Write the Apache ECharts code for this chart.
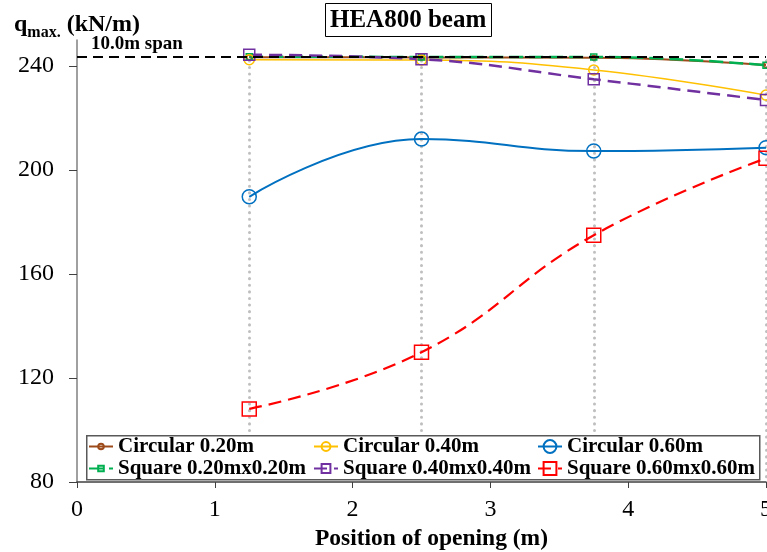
<!DOCTYPE html>
<html>
<head>
<meta charset="utf-8">
<script src="https://cdn.jsdelivr.net/npm/echarts@6/dist/echarts.min.js"></script>
<style>html,body{margin:0;padding:0;background:#fff}#c{width:767px;height:552px}</style>
</head>
<body>
<div id="c"></div>
<script>
const positions = [1.25, 2.5, 3.75, 5];
const circ020 = [243.4, 243.3, 243.2, 240.4];
const circ040 = [242.4, 242.3, 238.5, 228.8];
const circ060 = [189.7, 211.9, 207.3, 208.6];
const sq020 = [243.6, 243.5, 243.5, 240.3];
const sq040 = [244.3, 242.6, 234.9, 226.9];
const sq060 = [108.1, 129.9, 174.9, 204.5];
const spanValue = 243.5;
const spanLabel = '10.0m span';
const yTicks = [80, 120, 160, 200, 240];
const seriesNames = ['Circular 0.20m', 'Square 0.20mx0.20m', 'Circular 0.40m', 'Square 0.40mx0.40m', 'Circular 0.60m', 'Square 0.60mx0.60m'];

const FONT = 'Liberation Serif';
const pair = arr => positions.map((p, i) => [p, arr[i]]);

function mk(name, data, color, symbol, size, width, dash) {
  return {
    name, type: 'line', data: pair(data), smooth: 0.45,
    symbol, symbolSize: size, showSymbol: true,
    lineStyle: { color, width, type: dash || 'solid' },
    itemStyle: { color: 'rgba(255,255,255,0)', borderColor: color, borderWidth: 1.5 },
    emphasis: { disabled: true }, z: 3
  };
}

const guideLines = positions.map(p => [{ coord: [p, spanValue - 1.5] }, { coord: [p, yTicks[0]] }]);

const series = [
  {
    name: 'guides', type: 'line', data: [], z: 1, silent: true,
    markLine: {
      silent: true, symbol: 'none', animation: false, z: 1,
      lineStyle: { color: '#bfbfbf', width: 3, type: [0.1, 6.5], cap: 'round' },
      label: { show: false },
      data: guideLines
    }
  },
  {
    name: 'span', type: 'line', data: [], z: 2, silent: true,
    markLine: {
      silent: true, symbol: 'none', animation: false, z: 5,
      lineStyle: { color: '#000', width: 1.8, type: [10, 6] },
      label: { show: true, position: 'insideStartTop', formatter: spanLabel, fontFamily: FONT, fontWeight: 'bold', fontSize: 19, color: '#000', distance: [14, 3] },
      data: [{ yAxis: spanValue }]
    }
  },
  mk(seriesNames[0], circ020, '#9c4a1a', 'circle', 5, 2, null),
  mk(seriesNames[1], sq020, '#00b050', 'rect', 6, 2.5, [14, 6]),
  mk(seriesNames[2], circ040, '#ffc000', 'circle', 10, 1.5, null),
  mk(seriesNames[3], sq040, '#7030a0', 'rect', 11, 2.5, [13, 7]),
  mk(seriesNames[4], circ060, '#0070c0', 'circle', 14, 2, null),
  mk(seriesNames[5], sq060, '#ff0000', 'rect', 14, 2.2, [13, 7])
];

const legendCommon = {
  orient: 'vertical', top: 436, itemGap: 1, itemWidth: 24, padding: 0, z: 8,
  textStyle: { fontFamily: FONT, fontWeight: 'bold', fontSize: 21, color: '#000' },
  selectedMode: false
};

const chart = echarts.init(document.getElementById('c'), null, { renderer: 'canvas' });
chart.setOption({
  animation: false,
  backgroundColor: '#fff',
  title: {
    text: 'HEA800 beam', left: 325, top: 3,
    borderColor: '#000', borderWidth: 1, padding: [5, 5, 4, 5],
    textStyle: { fontFamily: FONT, fontWeight: 'bold', fontSize: 25, color: '#000' }
  },
  grid: { left: 77, right: 1, top: 40, bottom: 70, containLabel: false, outerBoundsMode: 'none' },
  xAxis: {
    type: 'value', min: 0, max: 5, interval: 1,
    name: 'Position of opening (m)', nameLocation: 'middle', nameGap: 36,
    nameTextStyle: { fontFamily: FONT, fontWeight: 'bold', fontSize: 23.5, color: '#000', padding: [0, 0, 0, 20] },
    axisLine: { show: true, lineStyle: { color: '#404040', width: 1.5 } },
    axisTick: { show: true, inside: false, length: 6, lineStyle: { color: '#404040' } },
    axisLabel: { fontFamily: FONT, fontSize: 24, color: '#000', margin: 16, showMaxLabel: true, hideOverlap: false },
    splitLine: { show: false }
  },
  yAxis: {
    type: 'value', min: yTicks[0], max: 250, interval: 40,
    name: '{a|q}{b|max.}{a| (kN/m)}', nameLocation: 'end', nameGap: -1,
    nameTextStyle: {
      rich: {
        a: { fontFamily: FONT, fontWeight: 'bold', fontSize: 24, color: '#000', lineHeight: 28, verticalAlign: 'top' },
        b: { fontFamily: FONT, fontWeight: 'bold', fontSize: 16, color: '#000', verticalAlign: 'bottom', lineHeight: 16 }
      }
    },
    axisLine: { show: true, lineStyle: { color: '#808080', width: 1.5 } },
    axisTick: { show: true, inside: false, length: 8, lineStyle: { color: '#404040' }, customValues: yTicks },
    axisLabel: { fontFamily: FONT, fontSize: 24, color: '#000', margin: 23, customValues: yTicks },
    splitLine: { show: false }
  },
  legend: [
    Object.assign({}, legendCommon, { left: 88, itemHeight: 7, data: [seriesNames[0], seriesNames[1]] }),
    Object.assign({}, legendCommon, { left: 313, itemHeight: 11, data: [seriesNames[2], seriesNames[3]] }),
    Object.assign({}, legendCommon, { left: 537, itemHeight: 16, data: [seriesNames[4], seriesNames[5]] })
  ],
  graphic: [{
    type: 'rect', left: 86, top: 435, z: 7, silent: true,
    shape: { width: 673, height: 44 },
    style: { fill: '#fff', stroke: '#595959', lineWidth: 1.5 }
  }],
  series
});
</script>
</body>
</html>
